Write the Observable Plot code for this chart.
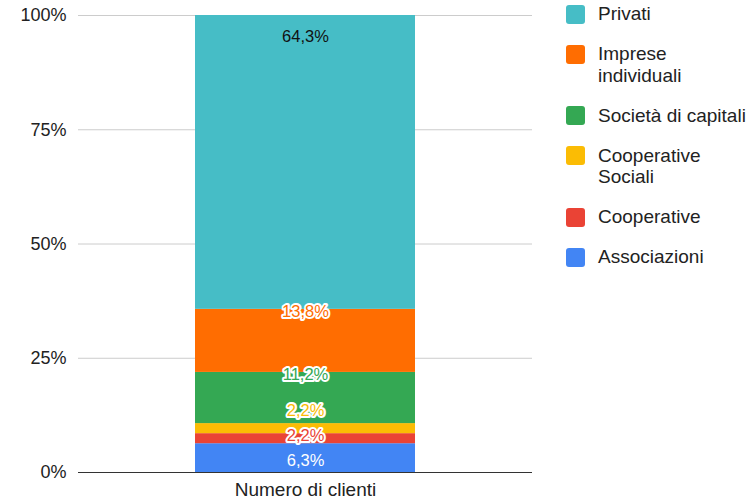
<!DOCTYPE html>
<html>
<head>
<meta charset="utf-8">
<script src="https://cdn.jsdelivr.net/npm/d3@7"></script>
<script src="https://cdn.jsdelivr.net/npm/@observablehq/plot@0.6"></script>
<style>
  body { margin: 0; background: #fff; font-family: "Liberation Sans", Arial, sans-serif; }
  #wrap { position: relative; width: 754px; height: 503px; overflow: hidden; }
  #chart { position: absolute; left: 0; top: 0; }
  #legend { position: absolute; left: 566px; top: 3px; color: #222; font-size: 19px; line-height: 21.5px; }
  .item { display: flex; align-items: flex-start; margin-bottom: 18.5px; }
  .sw { width: 19px; height: 19px; border-radius: 3px; margin-top: 1.5px; flex: none; }
  .lab { margin-left: 13px; white-space: pre-line; }
</style>
</head>
<body>
<div id="wrap"><div id="chart"></div><div id="legend"></div></div>
<script>
// ---- data (bottom to top of the stack) ----
const category = "Numero di clienti";
const series = ["Associazioni", "Cooperative", "Cooperative Sociali", "Società di capitali", "Imprese individuali", "Privati"];
const values = [6.3, 2.2, 2.2, 11.2, 13.8, 64.3];
const colors = ["#4285F4", "#EA4335", "#FBBC04", "#34A853", "#FF6D01", "#46BDC6"];
// labels that sit inside their segment are plain; the others are drawn in the series colour with a white halo
const labelInside = [true, false, false, false, false, true];
const insideText = ["#ffffff", null, null, null, null, "#111111"];
const legendOrder = ["Privati", "Imprese individuali", "Società di capitali", "Cooperative Sociali", "Cooperative", "Associazioni"];
const legendText = ["Privati", "Imprese\nindividuali", "Società di capitali", "Cooperative\nSociali", "Cooperative", "Associazioni"];
const yTicks = [0, 25, 50, 75, 100];

const data = series.map((s, i) => ({ x: category, series: s, value: values[i] }));
const fmt = v => v.toFixed(1).replace(".", ",") + "%";

// label placement: near the top of each segment, resolving overlaps
const tops = d3.cumsum(values);
function placeLabels(desired, gap, lo, hi) {
  const clusters = [];
  const base = c => Math.max(lo, Math.min(hi - (c.n - 1) * gap, c.sum / c.n));
  desired.forEach(d => {
    clusters.push({ n: 1, sum: d });
    while (clusters.length > 1) {
      const b = clusters[clusters.length - 1], a = clusters[clusters.length - 2];
      if (base(a) + a.n * gap > base(b)) {
        clusters.splice(-2, 2, { n: a.n + b.n, sum: a.sum + b.sum - b.n * a.n * gap });
      } else break;
    }
  });
  const out = [];
  clusters.forEach(c => { const b0 = base(c); for (let k = 0; k < c.n; k++) out.push(b0 + k * gap); });
  return out;
}
const labelY = placeLabels(tops.map(t => t - 0.6), 5.5, 2.6, 95.4);
const labels = series.map((s, i) => ({
  x: category, y: labelY[i], text: fmt(values[i]),
  fill: labelInside[i] ? insideText[i] : colors[i],
  halo: labelInside[i] ? "none" : "#ffffff"
}));

const plot = Plot.plot({
  width: 540,
  height: 503,
  marginLeft: 78,
  marginRight: 8,
  marginTop: 15,
  marginBottom: 31,
  style: { fontFamily: "'Liberation Sans', Arial, sans-serif", fontSize: "18px", color: "#222", background: "transparent" },
  x: { domain: [category], padding: 0.347, label: null, tickSize: 0, tickPadding: 10 },
  y: { domain: [0, 100], ticks: yTicks, tickFormat: d => d + "%", label: null, tickSize: 0, tickPadding: 12 },
  color: { domain: series, range: colors },
  marks: [
    Plot.ruleY(yTicks.filter(d => d > 0), { stroke: "#cccccc", strokeWidth: 1 }),
    Plot.barY(data, { x: "x", y: "value", fill: "series", order: null }),
    Plot.ruleY([0], { stroke: "#333333", strokeWidth: 1 }),
    Plot.text(labels, {
      x: "x", y: "y", text: "text", fill: "fill", stroke: "halo",
      strokeWidth: 4, paintOrder: "stroke", strokeLinejoin: "round", fontSize: 16.5
    })
  ]
});
// x-axis category label is a bit larger than y tick labels
plot.querySelectorAll("[aria-label='x-axis tick label'] text").forEach(t => t.setAttribute("font-size", "19"));
document.getElementById("chart").appendChild(plot);

const legend = document.getElementById("legend");
legendOrder.forEach((s, i) => {
  const item = document.createElement("div");
  item.className = "item";
  const sw = document.createElement("div");
  sw.className = "sw";
  sw.style.background = colors[series.indexOf(s)];
  const lab = document.createElement("div");
  lab.className = "lab";
  lab.textContent = legendText[i];
  item.appendChild(sw); item.appendChild(lab);
  legend.appendChild(item);
});
</script>
</body>
</html>
